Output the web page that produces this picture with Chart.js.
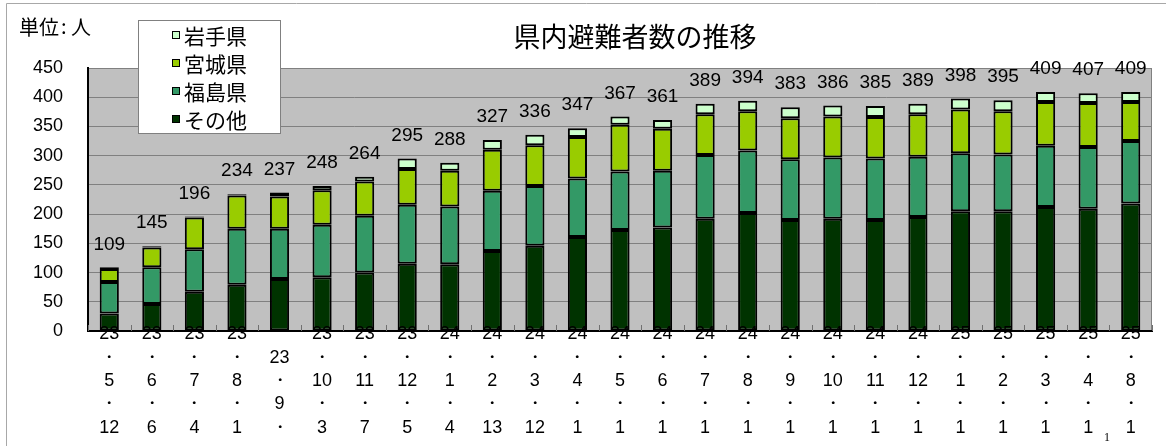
<!DOCTYPE html>
<html>
<head>
<meta charset="utf-8">
<script src="https://cdn.jsdelivr.net/npm/chart.js@4"></script>
<style>
  html, body { margin: 0; padding: 0; background: #fff; }
  #wrap { width: 1166px; height: 446px; }
</style>
</head>
<body>
<div id="wrap"><canvas id="evacChart" width="1166" height="446"></canvas></div>
<script>
// 調査日 (年・月・日)
const dateLabels = [
    ['23', '・', '5', '・', '12'],
    ['23', '・', '6', '・', '6'],
    ['23', '・', '7', '・', '4'],
    ['23', '・', '8', '・', '1'],
    ['', '23', '・', '9', '・'],
    ['23', '・', '10', '・', '3'],
    ['23', '・', '11', '・', '7'],
    ['23', '・', '12', '・', '5'],
    ['24', '・', '1', '・', '4'],
    ['24', '・', '2', '・', '13'],
    ['24', '・', '3', '・', '12'],
    ['24', '・', '4', '・', '1'],
    ['24', '・', '5', '・', '1'],
    ['24', '・', '6', '・', '1'],
    ['24', '・', '7', '・', '1'],
    ['24', '・', '8', '・', '1'],
    ['24', '・', '9', '・', '1'],
    ['24', '・', '10', '・', '1'],
    ['24', '・', '11', '・', '1'],
    ['24', '・', '12', '・', '1'],
    ['25', '・', '1', '・', '1'],
    ['25', '・', '2', '・', '1'],
    ['25', '・', '3', '・', '1'],
    ['25', '・', '4', '・', '1'],
    ['25', '・', '8', '・', '1']
];

const sonota   = [30, 46, 67, 79, 89, 92, 100, 115, 114, 137, 146, 161, 173, 177, 192, 202, 190, 192, 190, 195, 205, 205, 212, 209, 218];
const fukushima = [54, 63, 73, 96, 86, 90, 97, 101, 99, 103, 102, 100, 100, 97, 109, 107, 104, 105, 105, 103, 99, 97, 105, 106, 107];
const miyagi   = [22, 34, 54, 57, 55, 59, 59, 61, 61, 70, 70, 71, 80, 72, 70, 67, 70, 70, 71, 73, 75, 74, 75, 75, 67];
const iwate    = [3, 2, 2, 2, 7, 7, 8, 18, 14, 17, 18, 15, 14, 15, 18, 18, 19, 19, 19, 18, 19, 19, 17, 17, 17];
const totals   = [109, 145, 196, 234, 237, 248, 264, 295, 288, 327, 336, 347, 367, 361, 389, 394, 383, 386, 385, 389, 398, 395, 409, 407, 409];

const yTicks = [0, 50, 100, 150, 200, 250, 300, 350, 400, 450];

const JP = "'Noto Sans CJK JP', 'Noto Sans', sans-serif";
const NUM = "'Liberation Sans', Arial, sans-serif";

// plot background + gray frame
const plotBackground = {
    id: 'plotBackground',
    beforeDraw(chart) {
        const { ctx, chartArea: a } = chart;
        ctx.save();
        ctx.fillStyle = '#ffffff';
        ctx.fillRect(0, 0, chart.width, chart.height);
        // outer frame (top / left only visible)
        ctx.strokeStyle = '#a8a8a8';
        ctx.lineWidth = 1;
        ctx.beginPath();
        ctx.moveTo(6.5, chart.height);
        ctx.lineTo(6.5, 3.5);
        ctx.lineTo(chart.width, 3.5);
        ctx.stroke();
        ctx.fillStyle = '#c0c0c0';
        ctx.fillRect(a.left, a.top, a.right - a.left, a.bottom - a.top);
        ctx.strokeStyle = '#808080';
        ctx.strokeRect(a.left + 0.5, a.top + 0.5, a.right - a.left - 1, a.bottom - a.top);
        ctx.restore();
    },
    beforeDatasetsDraw(chart) {
        // small inward tick marks between categories
        const { ctx, chartArea: a } = chart;
        const x = chart.scales.x;
        const half = (x.getPixelForValue(1) - x.getPixelForValue(0)) / 2;
        ctx.save();
        ctx.strokeStyle = '#707070';
        ctx.lineWidth = 1;
        ctx.beginPath();
        for (let i = 0; i <= dateLabels.length; i++) {
            const px = Math.round(x.getPixelForValue(i) - half) + 0.5;
            ctx.moveTo(px, a.bottom);
            ctx.lineTo(px, a.bottom - 6);
        }
        ctx.stroke();
        ctx.restore();
    }
};

// totals above bars, title, unit, legend
const annotations = {
    id: 'annotations',
    afterDatasetsDraw(chart) {
        const { ctx } = chart;
        const topMeta = chart.getDatasetMeta(chart.data.datasets.length - 1);
        ctx.save();
        ctx.fillStyle = '#000';
        ctx.font = '19px ' + NUM;
        ctx.textAlign = 'center';
        ctx.textBaseline = 'middle';
        topMeta.data.forEach((bar, i) => {
            ctx.fillText(String(totals[i]), bar.x, bar.y - 23);
        });
        ctx.restore();
    },
    afterDraw(chart) {
        const { ctx } = chart;
        ctx.save();
        ctx.fillStyle = '#000';
        ctx.textBaseline = 'middle';

        ctx.font = '27px ' + JP;
        ctx.textAlign = 'center';
        ctx.fillText('県内避難者数の推移', 635, 37);

        ctx.font = '20px ' + JP;
        ctx.textAlign = 'left';
        ctx.fillText('単位', 19, 27);
        ctx.fillText(':', 61, 26);
        ctx.fillText('人', 71, 27);

        // legend box
        ctx.fillStyle = '#fff';
        ctx.fillRect(138, 20, 142, 114);
        ctx.strokeStyle = '#808080';
        ctx.lineWidth = 1;
        ctx.strokeRect(138.5, 20.5, 142, 113);

        const ds = chart.data.datasets.slice().reverse();
        ctx.font = '21px ' + JP;
        ds.forEach((d, i) => {
            const cy = 35 + i * 28;
            ctx.fillStyle = d.backgroundColor;
            ctx.fillRect(172, cy - 4, 8, 8);
            ctx.strokeStyle = '#000';
            ctx.strokeRect(172.5, cy - 3.5, 7, 7);
            ctx.fillStyle = '#000';
            ctx.fillText(d.label, 184, cy + 1);
        });

        ctx.font = '12px "Liberation Serif", serif';
        ctx.fillText('1', 1104, 438);
        ctx.restore();
    }
};

const ctx = document.getElementById('evacChart').getContext('2d');
new Chart(ctx, {
    type: 'bar',
    data: {
        labels: dateLabels,
        datasets: [
            { label: 'その他', data: sonota, backgroundColor: '#003300' },
            { label: '福島県', data: fukushima, backgroundColor: '#339966' },
            { label: '宮城県', data: miyagi, backgroundColor: '#99cc00' },
            { label: '岩手県', data: iwate, backgroundColor: '#ccffcc' }
        ].map(d => Object.assign(d, {
            borderColor: '#000',
            borderWidth: 2,
            borderSkipped: false,
            barPercentage: 0.45,
            categoryPercentage: 1
        }))
    },
    options: {
        responsive: false,
        animation: false,
        layout: { padding: { left: 0, top: 68, right: 14, bottom: 0 } },
        plugins: {
            legend: { display: false },
            title: { display: false },
            tooltip: { enabled: false }
        },
        scales: {
            x: {
                stacked: true,
                afterFit: scale => { scale.height = 115; },
                grid: { display: false, drawTicks: false },
                border: { color: '#000', width: 2 },
                ticks: {
                    z: 1,
                    mirror: true,   // no label clipping, first line may overlap the axis
                    color: '#000',
                    padding: -15,
                    autoSkip: false,
                    maxRotation: 0,
                    minRotation: 0,
                    font: { family: NUM, size: 18, lineHeight: 1.3 }
                }
            },
            y: {
                stacked: true,
                min: 0,
                max: 450,
                afterFit: scale => { scale.width = 88; },
                afterBuildTicks: scale => { scale.ticks = yTicks.map(v => ({ value: v })); },
                grid: { color: '#808080', drawTicks: false },
                border: { color: '#000', width: 2 },
                ticks: {
                    color: '#000',
                    padding: 25,
                    font: { family: NUM, size: 18 }
                }
            }
        }
    },
    plugins: [plotBackground, annotations]
});
</script>
</body>
</html>
